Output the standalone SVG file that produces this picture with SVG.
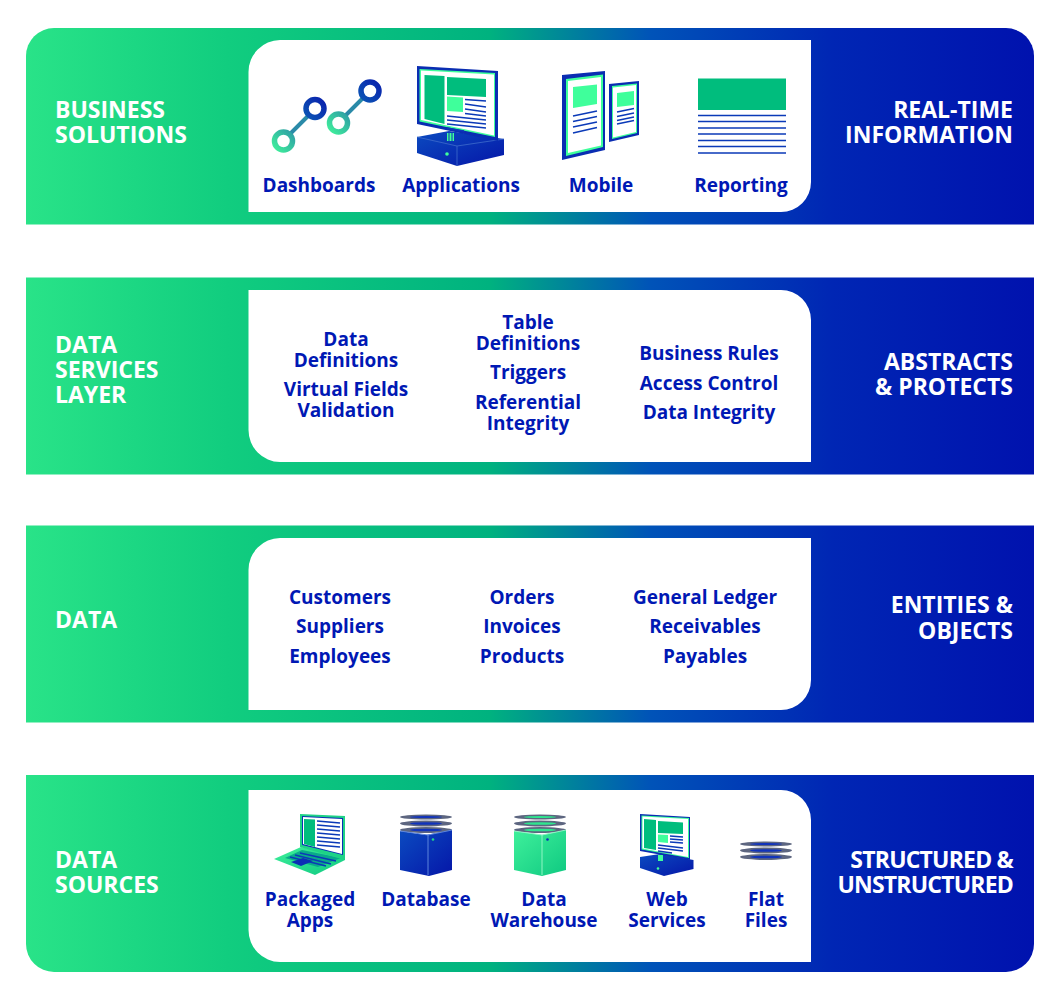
<svg xmlns="http://www.w3.org/2000/svg" width="1060" height="1000" viewBox="0 0 1060 1000">
<style>
text{font-family:"Open Sans","Liberation Sans",sans-serif;font-weight:700}
.h{font-size:23px;fill:#fff}
.r{text-anchor:end}
.n{letter-spacing:-.8px}
.t{font-size:19px;fill:#0018b4;text-anchor:middle}
.g{fill:#00bd7d}.m{fill:#3fff9b}.w{fill:#fff}.b{fill:#0b2fb5}
.ln{stroke:#0b3ab8;stroke-width:1.5;fill:none}
.disc{fill:#5d6680}
</style>
<defs>
<linearGradient id="band" x1="26" x2="1034" y1="0" y2="0" gradientUnits="userSpaceOnUse">
<stop offset="0" stop-color="#29e388"/><stop offset=".2" stop-color="#11cd7f"/><stop offset=".46" stop-color="#00b27f"/><stop offset=".62" stop-color="#0053b8"/><stop offset=".8" stop-color="#0026b4"/><stop offset="1" stop-color="#0012ae"/>
</linearGradient>
<linearGradient id="ring1" x1="0" y1="1" x2="1" y2="0"><stop offset="0" stop-color="#3fef9b"/><stop offset="1" stop-color="#2f9fa5"/></linearGradient>
<linearGradient id="ring2" x1="0" y1="1" x2="1" y2="0"><stop offset="0" stop-color="#0b55b5"/><stop offset="1" stop-color="#0a22ad"/></linearGradient>
<linearGradient id="blk" x1="0" y1="0" x2="1" y2="1"><stop offset="0" stop-color="#0b4bc0"/><stop offset="1" stop-color="#0516a8"/></linearGradient>
<linearGradient id="grn" x1="0" y1="0" x2="1" y2="1"><stop offset="0" stop-color="#3ff09b"/><stop offset="1" stop-color="#0fc981"/></linearGradient>
<g id="disc3"><ellipse cx="26" cy="3" rx="26" ry="2.500" class="disc"/><ellipse cx="26" cy="3" rx="16" ry="1" fill="#1133bb"/><ellipse cx="26" cy="9.500" rx="26" ry="3" class="disc"/><ellipse cx="26" cy="9.500" rx="16" ry="1.300" fill="#1133bb"/><ellipse cx="26" cy="16" rx="26" ry="3" class="disc"/><ellipse cx="26" cy="16" rx="16" ry="1.300" fill="#1133bb"/></g>
<g id="disc3g"><ellipse cx="26" cy="3" rx="26" ry="2.500" class="disc"/><ellipse cx="26" cy="3" rx="16" ry="1" fill="#2fe58e"/><ellipse cx="26" cy="9.500" rx="26" ry="3" class="disc"/><ellipse cx="26" cy="9.500" rx="16" ry="1.300" fill="#2fe58e"/><ellipse cx="26" cy="16" rx="26" ry="3" class="disc"/><ellipse cx="26" cy="16" rx="16" ry="1.300" fill="#2fe58e"/></g>
</defs>

<g id="band-business">
<path d="M54 28H1006A28 28 0 0 1 1034 56V224.500H26V56A28 28 0 0 1 54 28Z" fill="url(#band)"/>
<path d="M280 40H811V182A30 30 0 0 1 781 212H248.500V72A32 32 0 0 1 280 40Z" class="w"/>
<text class="h" x="55" y="118">BUSINESS</text><text class="h" x="55" y="143">SOLUTIONS</text>
<text class="h r" x="1013" y="118">REAL-TIME</text><text class="h r" x="1013" y="143">INFORMATION</text>
</g>
<g id="dashboards">
<path d="M283 141L315 109M338 123L370 91" stroke="#2a8aa8" stroke-width="4" fill="none"/>
<circle cx="283.500" cy="141" r="9" fill="#fff" stroke="url(#ring1)" stroke-width="5.500"/>
<circle cx="315" cy="108.500" r="9" fill="#fff" stroke="url(#ring2)" stroke-width="5.500"/>
<circle cx="338.500" cy="123" r="9" fill="#fff" stroke="url(#ring1)" stroke-width="5.500"/>
<circle cx="370" cy="91" r="9" fill="#fff" stroke="url(#ring2)" stroke-width="5.500"/>
<text class="t" x="319" y="192">Dashboards</text>
</g>
<g id="applications">
<path d="M417 137L449 131 504 139V155L457 166 417 153Z" fill="url(#blk)"/>
<path d="M417 137L457 146 504 139M457 146V166" fill="none" stroke="#3f6ccc" stroke-width=".8"/>
<circle cx="447" cy="154" r="1.800" fill="#3fff9b"/>
<rect x="447" y="133" width="7" height="8" class="m"/>
<path d="M449 133v8M452 133v8" stroke="#0b2fb5" stroke-width="1"/>
<path d="M417 66L498 71V141L417 124Z" fill="#0a2db2"/>
<path d="M419.500 69L495 73V137L419.500 121.500Z" class="m"/>
<path d="M421 70.500L494 74.500V135.500L421 120Z" class="w"/>
<path d="M424.500 75L444.500 76V124L424.500 119Z" class="g"/>
<path d="M447 77L486 79V97L447 95Z" class="g"/>
<path d="M447 96.500L463 97.500V112L447 111Z" class="m"/>
<path class="ln" d="M465 99.500L486 101M465 104L486 107M465 109L486 112M465 113.500L486 116M447 116L486 120M447 120L486 124M447 124L486 128M447 128L464 131"/>
<text class="t" x="461" y="192">Applications</text>
</g>
<g id="mobile">
<path d="M562 75L605 71V150L562 160Z" fill="#0a2db2"/>
<path d="M566 79L603 74.500V147L566 156Z" class="m"/>
<path d="M568 81L601 77V145.500L568 153Z" class="w"/>
<path d="M573 87L597 84.500V104L573 108Z" class="m"/>
<path class="ln" d="M573 116L597 111M573 121.500L597 116.500M573 127L597 122M573 133L597 127.500" stroke-width="2"/>
<path d="M609 84L639 81V135L609 142Z" fill="#0a2db2"/>
<path d="M612 86L637 83.500V133L612 139Z" class="m"/>
<path d="M613 87.500L636 85V132L613 137.500Z" class="w"/>
<path d="M617 93L634 91V105L617 107Z" class="m"/>
<path class="ln" d="M617 112L634 108.500M617 116.500L634 113M617 120.500L634 117M617 124L634 120.500"/>
<text class="t" x="601" y="192">Mobile</text>
</g>
<g id="reporting">
<rect x="698" y="78.500" width="88" height="31.500" class="g"/>
<path class="ln" d="M698 115.500H786M698 121.500H786M698 128H786M698 134H786M698 140.500H786M698 146.500H786M698 153H786"/>
<text class="t" x="741" y="192">Reporting</text>
</g>

<g id="band-services">
<rect x="26" y="277.500" width="1008" height="197" fill="url(#band)"/>
<path d="M248.500 290H781A30 30 0 0 1 811 320V462H280A32 32 0 0 1 248.500 430Z" class="w"/>
<text class="h" x="55" y="353">DATA</text><text class="h" x="55" y="378">SERVICES</text><text class="h" x="55" y="403">LAYER</text>
<text class="h r" x="1013" y="370">ABSTRACTS</text><text class="h r" x="1013" y="395">&amp; PROTECTS</text>
<text class="t" x="346" y="346">Data</text><text class="t" x="346" y="367">Definitions</text><text class="t" x="346" y="396">Virtual Fields</text><text class="t" x="346" y="417">Validation</text>
<text class="t" x="528" y="329">Table</text><text class="t" x="528" y="350">Definitions</text><text class="t" x="528" y="379">Triggers</text><text class="t" x="528" y="409">Referential</text><text class="t" x="528" y="430">Integrity</text>
<text class="t" x="709" y="360">Business Rules</text><text class="t" x="709" y="390">Access Control</text><text class="t" x="709" y="419">Data Integrity</text>
</g>

<g id="band-data">
<rect x="26" y="525.500" width="1008" height="197" fill="url(#band)"/>
<path d="M280 538H811V680A30 30 0 0 1 781 710H248.500V570A32 32 0 0 1 280 538Z" class="w"/>
<text class="h" x="55" y="628">DATA</text>
<text class="h r" x="1013" y="613">ENTITIES &amp;</text><text class="h r" x="1013" y="639">OBJECTS</text>
<text class="t" x="340" y="604">Customers</text><text class="t" x="340" y="633">Suppliers</text><text class="t" x="340" y="663">Employees</text>
<text class="t" x="522" y="604">Orders</text><text class="t" x="522" y="633">Invoices</text><text class="t" x="522" y="663">Products</text>
<text class="t" x="705" y="604">General Ledger</text><text class="t" x="705" y="633">Receivables</text><text class="t" x="705" y="663">Payables</text>
</g>

<g id="band-sources">
<path d="M26 775H1034V944A28 28 0 0 1 1006 972H54A28 28 0 0 1 26 944Z" fill="url(#band)"/>
<path d="M248.500 790H781A30 30 0 0 1 811 820V962H280A32 32 0 0 1 248.500 930Z" class="w"/>
<text class="h" x="55" y="868">DATA</text><text class="h" x="55" y="893">SOURCES</text>
<text class="h r n" x="1013" y="868">STRUCTURED &amp;</text><text class="h r n" x="1013" y="893">UNSTRUCTURED</text>
</g>
<g id="packaged-apps">
<path d="M274 859L301 847 345 857V860L315 875Z" fill="url(#grn)"/>
<path d="M285 858L302 850 341 858 318 867Z" fill="#0aa98a"/>
<path class="ln" stroke-width=".8" d="M290 857L326 866M295 855L331 864M300 853L336 861"/>
<path d="M291 862L303 858 313 861 301 866Z" fill="#0b2fb5"/>
<path d="M300 814L345 816V860L300 847Z" fill="#1ed386"/>
<path d="M302 816L343 818V855L302 845Z" fill="#0b2fb5"/>
<path d="M303 817L342 819V854L303 844Z" class="w"/>
<path d="M304 819L315 819.500V847L304 844Z" class="g"/>
<path class="ln" stroke-width="1" d="M317 821L340 823M317 825L340 827M317 829L340 831M317 833L340 835M317 837L340 839M317 841L340 843M317 845L340 847"/>
<text class="t" x="310" y="906">Packaged</text><text class="t" x="310" y="927">Apps</text>
</g>
<g id="database">
<use href="#disc3" x="400" y="814"/>
<path d="M400 831L426 835 452 830V870L429 876 400 870Z" fill="url(#blk)"/>
<path d="M400 831L428 835 452 830M428 835V875" stroke="#5c85dc" stroke-width="1" fill="none"/>
<circle cx="433" cy="839.500" r="1.300" fill="#20d58a"/>
<text class="t" x="426" y="906">Database</text>
</g>
<g id="data-warehouse">
<use href="#disc3g" x="514" y="814"/>
<path d="M514 831L542 835 566 830V870L542 876 514 870Z" fill="url(#grn)"/>
<path d="M514 831L542 835 566 830M542 835V875" stroke="#8ff5c4" stroke-width="1" fill="none"/>
<circle cx="547.500" cy="839.500" r="1.300" fill="#0b2fb5"/>
<text class="t" x="544" y="906">Data</text><text class="t" x="544" y="927">Warehouse</text>
</g>
<g id="web-services">
<path d="M640 857L660 854 693.500 860V869L664 876 640 868Z" fill="url(#blk)"/>
<rect x="658" y="855" width="5" height="6" class="m"/>
<circle cx="658" cy="868.500" r="1.300" fill="#3fff9b"/>
<path d="M640 814L690 817V860L640 851Z" fill="#0a2db2"/>
<path d="M641.500 815.500L689 818V858L641.500 849.500Z" class="m"/>
<path d="M642.500 816.500L688 819V857L642.500 848.500Z" class="w"/>
<path d="M644 819L656 820V850L644 848Z" class="g"/>
<path d="M658 821L683 822.500V834L658 833Z" class="g"/>
<path d="M658 834.500L668 835V843L658 842Z" class="m"/>
<path class="ln" stroke-width="1" d="M670 836L683 837M670 839L683 840M670 842L683 843M658 845L683 848M658 848L683 851M658 851L672 853"/>
<text class="t" x="667" y="906">Web</text><text class="t" x="667" y="927">Services</text>
</g>
<g id="flat-files">
<use href="#disc3" x="740" y="841"/>
<text class="t" x="766" y="906">Flat</text><text class="t" x="766" y="927">Files</text>
</g>
</svg>
